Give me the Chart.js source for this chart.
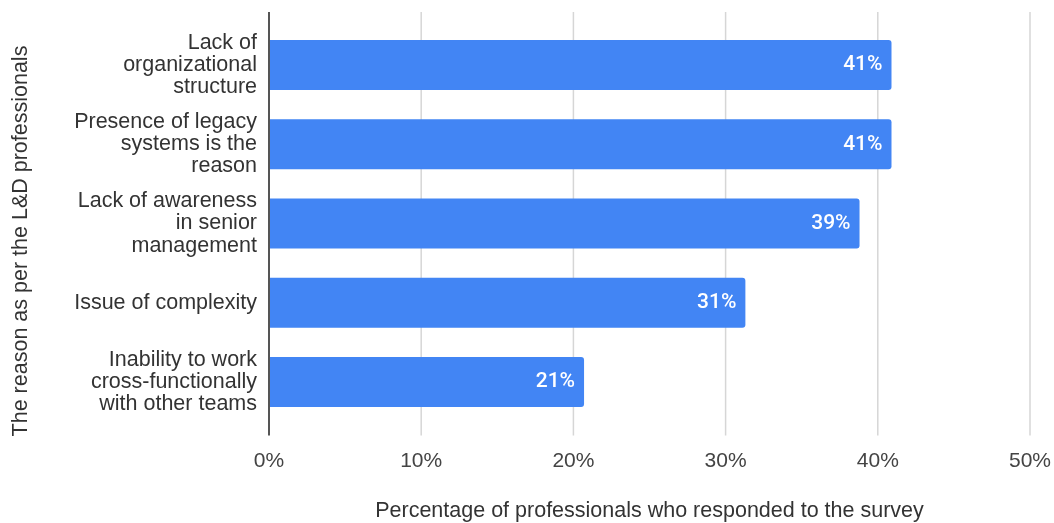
<!DOCTYPE html>
<html>
<head>
<meta charset="utf-8">
<script src="https://cdn.jsdelivr.net/npm/chart.js@4.4.1/dist/chart.umd.min.js"></script>
<style>
  html, body { margin: 0; padding: 0; background: #fff; }
  #wrap { width: 1054px; height: 523px; position: relative; }
</style>
</head>
<body>
<div id="wrap"><canvas id="barChart"></canvas></div>
<script>
const categories = [
    ['Lack of', 'organizational', 'structure'],
    ['Presence of legacy', 'systems is the', 'reason'],
    ['Lack of awareness', 'in senior', 'management'],
    ['Issue of complexity'],
    ['Inability to work', 'cross-functionally', 'with other teams']
];
const values = [40.9, 40.9, 38.8, 31.3, 20.7];
const xTicks = [0, 10, 20, 30, 40, 50];
const xTitle = 'Percentage of professionals who responded to the survey';
const yTitle = 'The reason as per the L&D professionals';

Chart.defaults.font.family = "'Liberation Sans', Arial, sans-serif";
Chart.defaults.color = '#444';

// grid lines + axis line, a bit taller than the plot area like the original
let framePlugin = {
    id: 'frame',
    beforeDatasetsDraw(chart) {
        let ctx = chart.ctx, a = chart.chartArea, x = chart.scales.x;
        ctx.save();
        ctx.strokeStyle = '#d6d6d6';
        ctx.lineWidth = 1.5;
        xTicks.forEach(function (v, i) {
            if (i === 0) return;
            let px = x.getPixelForValue(v);
            ctx.beginPath();
            ctx.moveTo(px, a.top - 13.5);
            ctx.lineTo(px, a.bottom + 14);
            ctx.stroke();
        });
        ctx.restore();
    },
    afterDatasetsDraw(chart) {
        let ctx = chart.ctx, a = chart.chartArea, x = chart.scales.x;
        ctx.save();
        // zero line
        let px = x.getPixelForValue(xTicks[0]);
        ctx.strokeStyle = '#555';
        ctx.lineWidth = 2;
        ctx.beginPath();
        ctx.moveTo(px, a.top - 13.5);
        ctx.lineTo(px, a.bottom + 14);
        ctx.stroke();

        // value labels inside the bars
        ctx.fillStyle = '#fff';
        ctx.font = "500 21px Roboto, 'Liberation Sans', sans-serif";
        ctx.textAlign = 'right';
        ctx.textBaseline = 'middle';
        chart.getDatasetMeta(0).data.forEach(function (bar, i) {
            ctx.fillText(Math.round(values[i]) + '%', bar.x - 9, bar.y);
        });

        // vertical axis title
        ctx.fillStyle = '#333';
        ctx.font = "21.5px 'Liberation Sans', Arial, sans-serif";
        ctx.textAlign = 'center';
        ctx.translate(21, 241);
        ctx.rotate(-Math.PI / 2);
        ctx.fillText(yTitle, 0, 0);
        ctx.restore();
    }
};

var barCanvas = document.getElementById('barChart').getContext('2d');
var barChart = new Chart(barCanvas, {
    type: 'bar',
    data: {
        labels: categories,
        datasets: [{
            data: values,
            backgroundColor: '#4285f4',
            borderRadius: 3,
            borderSkipped: 'start',
            barPercentage: 0.631,
            categoryPercentage: 1
        }]
    },
    options: {
        indexAxis: 'y',
        responsive: true,
        maintainAspectRatio: false,
        animation: false,
        layout: { padding: { top: 25.5, right: 24, left: 0, bottom: 0 } },
        plugins: {
            legend: { display: false },
            tooltip: { enabled: false }
        },
        scales: {
            x: {
                min: 0,
                max: 50,
                afterFit: function (s) {
                    s.height = 101.5;
                    s.paddingLeft = 0;
                    s.paddingRight = 0;
                },
                afterBuildTicks: function (s) { s.ticks = xTicks.map(function (v) { return { value: v }; }); },
                grid: { display: false, drawTicks: false },
                border: { display: false },
                ticks: {
                    padding: 27,
                    color: '#444',
                    font: { size: 21, lineHeight: 1.2 },
                    callback: function (v) { return v + '%'; }
                },
                title: {
                    display: true,
                    text: xTitle,
                    color: '#333',
                    font: { size: 21.5, lineHeight: 1.1 },
                    padding: { top: 0, bottom: 0 }
                }
            },
            y: {
                afterFit: function (s) {
                    s.width = 269;
                    s.paddingTop = 0;
                    s.paddingBottom = 0;
                },
                grid: { display: false, drawTicks: false },
                border: { display: false },
                ticks: {
                    padding: 12,
                    color: '#333',
                    font: { size: 21.5, lineHeight: 1.03 }
                }
            }
        }
    },
    plugins: [framePlugin]
});
</script>
</body>
</html>
